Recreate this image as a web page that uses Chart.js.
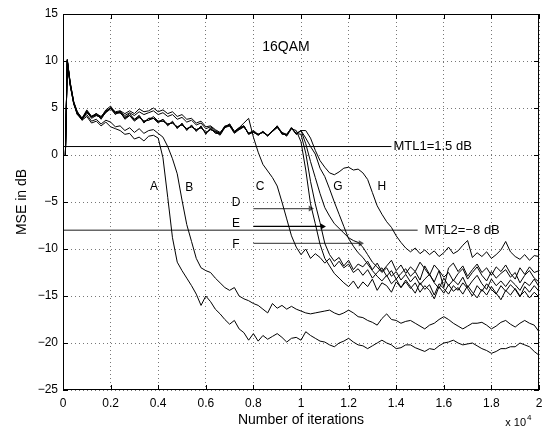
<!DOCTYPE html>
<html>
<head>
  <meta charset="utf-8">
  <title>16QAM MSE learning curves</title>
  <script src="https://cdn.jsdelivr.net/npm/chart.js"></script>
  <style>
    html, body { margin: 0; padding: 0; background: #fff; }
  </style>
</head>
<body>
<canvas id="mseChart" width="551" height="432"></canvas>
<script>
// iterations in units of 1e4; first few samples are denser to catch the start-up spike
const earlyX = [0.01, 0.018, 0.03, 0.045];
const gridStart = 0.06, gridStep = 0.02, gridCount = 98;

// MSE in dB, one array per curve (4 early samples, then 0.06 .. 2.00 every 0.02)
const curveA = [0, 10.1, 7.6, 5.6,
  4.4, 3.7, 4.1, 3.4, 3.6, 3.1, 3.5, 3.0, 2.8, 2.6,
  2.2, 2.3, 1.7, 1.9, 1.5, 2.0, 2.1, 1.8, -0.3, -4.5,
  -8.8, -11.4, -12.3, -13.1, -13.9, -14.8, -16.0, -15.0, -15.6, -16.4,
  -16.9, -17.5, -18.0, -17.6, -18.5, -18.9, -19.7, -19.0, -19.8, -19.2,
  -19.6, -19.3, -19.0, -19.4, -19.9, -19.5, -19.4, -19.7, -18.8, -19.2,
  -19.5, -19.8, -19.9, -20.2, -20.4, -20.0, -19.8, -19.5, -19.9, -20.2,
  -20.3, -20.6, -20.3, -20.0, -19.7, -20.0, -20.2, -20.6, -20.5, -20.2,
  -20.2, -20.5, -20.7, -20.9, -20.6, -20.7, -20.3, -20.0, -19.9, -19.7,
  -20.0, -20.2, -20.1, -20.0, -20.3, -20.6, -20.8, -21.1, -20.9, -20.6,
  -20.6, -20.4, -20.4, -20.0, -20.2, -20.4, -20.9, -21.3];
const curveB = [0, 10.0, 7.5, 5.5,
  4.3, 3.8, 4.3, 3.6, 3.8, 3.3, 3.7, 3.5, 3.0, 3.1,
  2.6, 2.9, 2.4, 2.8, 2.3, 2.6, 2.7, 2.3, 1.9, 0.9,
  -0.4, -2.0, -4.8, -7.4, -9.2, -11.0, -12.0, -12.3, -12.5, -13.1,
  -13.6, -14.1, -14.4, -14.1, -15.0, -15.3, -15.5, -15.8, -16.0, -16.4,
  -16.8, -15.8, -16.3, -16.0, -16.4, -16.1, -16.4, -16.6, -16.8, -16.9,
  -16.8, -16.7, -16.6, -16.5, -16.8, -17.0, -16.8, -16.5, -16.8, -17.2,
  -17.3, -17.6, -17.8, -18.1, -17.4, -16.9, -17.5, -17.6, -17.9, -17.7,
  -17.6, -17.9, -18.2, -18.5, -18.1, -17.9, -17.5, -17.2, -17.5, -17.9,
  -18.2, -18.5, -18.2, -17.9, -17.9, -17.8, -18.1, -18.5, -18.2, -17.8,
  -17.6, -18.0, -18.3, -17.9, -17.6, -17.9, -18.1, -18.8];
const curveC = [0, 10.2, 7.7, 5.7,
  4.6, 3.9, 4.8, 4.1, 4.2, 4.0, 4.8, 5.2, 4.5, 4.5,
  4.0, 4.4, 3.8, 4.0, 3.6, 3.7, 4.1, 3.6, 3.6, 3.3,
  3.4, 3.0, 3.2, 2.8, 3.0, 2.7, 2.9, 2.4, 2.7, 2.5,
  2.3, 2.9, 3.3, 2.5, 2.9, 3.4, 3.9, 1.9, 0.3, -1.0,
  -1.7, -2.4, -3.3, -5.0, -6.8, -8.6, -9.8, -10.6, -10.0, -11.0,
  -10.5, -10.9, -11.5, -11.0, -11.9, -11.3, -12.0, -11.6, -12.5, -12.1,
  -12.8, -12.2, -13.1, -12.5, -12.0, -12.9, -12.3, -13.2, -12.6, -12.1,
  -12.9, -12.4, -13.3, -11.8, -12.7, -13.5, -12.3, -13.0, -12.5, -13.4,
  -12.6, -12.1, -13.2, -12.5, -11.9, -12.8, -13.4, -12.4, -13.1, -12.6,
  -12.2, -13.0, -12.5, -13.6, -12.8, -12.3, -13.1, -13.5];
const curveD = [0, 10.0, 7.8, 5.6,
  4.4, 3.7, 4.6, 4.1, 4.4, 3.8, 4.6, 5.0, 4.3, 4.7,
  3.8, 4.2, 3.8, 4.2, 3.4, 3.9, 3.9, 3.4, 3.8, 3.1,
  3.6, 2.8, 3.4, 2.6, 3.2, 2.5, 3.1, 2.2, 2.9, 2.3,
  2.3, 3.1, 3.1, 2.3, 2.7, 3.0, 2.3, 2.4, 2.2, 2.4,
  2.1, 2.5, 3.1, 2.2, 2.2, 2.8, 2.6, 1.4, -1.6, -5.2,
  -7.3, -9.5, -11.0, -11.8, -12.6, -13.1, -13.6, -14.0, -13.4, -14.2,
  -13.5, -14.0, -13.2, -14.4, -13.6, -13.9, -14.6, -13.5, -14.1, -13.3,
  -14.0, -14.7, -13.6, -14.3, -13.8, -14.9, -13.7, -14.2, -14.8, -13.9,
  -14.4, -13.6, -14.2, -15.0, -13.9, -14.5, -13.7, -14.3, -14.8, -13.9,
  -14.5, -13.8, -14.3, -15.1, -14.0, -14.6, -13.9, -14.5];
const curveE = [0, 10.1, 7.5, 5.5,
  4.3, 3.9, 4.6, 3.9, 4.2, 4.0, 4.6, 5.0, 4.5, 4.5,
  4.0, 4.2, 3.6, 4.0, 3.6, 3.7, 3.9, 3.6, 3.6, 3.3,
  3.4, 3.0, 3.2, 2.8, 3.0, 2.7, 2.9, 2.4, 2.7, 2.5,
  2.1, 2.9, 3.1, 2.5, 2.7, 3.0, 2.3, 2.4, 2.2, 2.4,
  2.1, 2.5, 2.9, 2.4, 2.0, 2.8, 2.3, 2.2, 0.2, -2.8,
  -5.2, -7.2, -9.4, -10.6, -11.3, -10.9, -11.8, -11.2, -12.2, -11.6,
  -11.9, -11.3, -12.2, -11.5, -12.4, -11.8, -11.2, -12.3, -11.7, -12.6,
  -11.9, -12.4, -11.4, -12.1, -12.8, -11.7, -12.3, -14.1, -12.0, -11.5,
  -12.4, -11.8, -12.9, -12.2, -11.6, -12.5, -12.0, -12.8, -11.9, -12.4,
  -11.7, -12.6, -13.2, -12.0, -12.7, -11.9, -12.5, -12.3];
const curveF = [0, 10.0, 7.6, 5.4,
  4.5, 3.8, 4.5, 4.0, 4.4, 3.9, 4.5, 4.9, 4.4, 4.5,
  3.9, 4.2, 3.7, 4.2, 3.5, 3.9, 3.9, 3.5, 3.8, 3.2,
  3.5, 2.9, 3.3, 2.7, 3.1, 2.6, 3.0, 2.3, 2.8, 2.4,
  2.2, 3.0, 3.2, 2.4, 2.8, 3.1, 2.2, 2.5, 2.1, 2.5,
  2.0, 2.6, 3.0, 2.3, 2.1, 2.9, 2.2, 2.6, 1.2, -0.7,
  -2.4, -4.1, -5.6, -6.5, -7.3, -7.8, -8.3, -8.8, -9.1, -9.3,
  -9.8, -10.6, -11.4, -11.9, -12.5, -12.0, -12.9, -12.4, -13.3, -12.7,
  -13.5, -12.9, -13.8, -13.2, -12.7, -13.6, -14.2, -13.1, -13.9, -13.3,
  -13.8, -13.0, -14.1, -13.4, -12.8, -13.7, -14.3, -13.2, -13.9, -13.4,
  -14.0, -13.3, -13.8, -14.4, -13.5, -13.9, -13.2, -14.0];
const curveG = [0, 10.1, 7.7, 5.6,
  4.6, 3.9, 4.6, 4.1, 4.3, 4.0, 4.6, 5.0, 4.5, 4.6,
  4.2, 4.5, 4.2, 4.6, 4.3, 4.5, 4.7, 4.3, 4.5, 4.1,
  4.3, 3.8, 4.0, 3.5, 3.7, 3.2, 3.4, 2.8, 3.0, 2.6,
  2.3, 3.0, 3.2, 2.4, 2.8, 3.1, 2.2, 2.5, 2.1, 2.5,
  2.0, 2.6, 3.0, 2.3, 2.1, 2.9, 2.2, 2.6, 1.8, 0.9,
  0.1, -1.4, -2.3, -3.6, -5.0, -6.3, -7.6, -8.9, -9.7, -10.4,
  -10.9, -11.6, -12.3, -12.9, -13.4, -12.8, -13.7, -13.2, -14.1, -13.5,
  -14.2, -13.6, -14.6, -13.9, -14.4, -15.3, -14.0, -14.7, -13.8, -14.5,
  -14.1, -14.8, -13.9, -14.6, -15.2, -14.3, -14.9, -14.0, -14.7, -15.4,
  -14.4, -14.9, -14.2, -15.0, -14.5, -15.2, -14.6, -15.1];
const curveH = [0, 10.0, 7.4, 5.5,
  4.5, 3.9, 4.7, 4.1, 4.4, 4.1, 4.7, 5.0, 4.6, 4.7,
  4.4, 4.7, 4.4, 4.9, 4.6, 4.7, 5.0, 4.6, 4.8, 4.4,
  4.6, 4.1, 4.3, 3.8, 3.9, 3.4, 3.6, 3.0, 3.1, 2.7,
  2.4, 3.0, 3.3, 2.5, 2.9, 3.1, 2.3, 2.6, 2.2, 2.5,
  2.1, 2.6, 3.1, 2.4, 2.2, 2.9, 2.3, 2.6, 2.6, 1.8,
  0.5, -0.6, -1.3, -1.9, -2.1, -1.8, -1.4, -1.3, -1.6, -1.5,
  -1.9, -2.6, -4.0, -5.4, -6.3, -7.1, -7.7, -8.6, -9.3, -9.9,
  -10.3, -9.9, -10.5, -10.1, -10.6, -10.2, -10.8, -10.4, -9.8, -10.5,
  -10.2, -9.6, -9.1, -10.9, -10.4, -10.8, -10.3, -11.0, -10.6, -10.1,
  -9.2, -10.3, -10.8, -11.1, -10.6, -11.2, -10.7, -10.8];

// threshold lines: [level in dB, end iteration (x1e4)]
const mtl1 = [0.9, 1.38];
const mtl2 = [-8, 1.49];
// arrows D, E, F: level in dB, start and end iteration
const arrowLevels = [-5.7, -7.6, -9.4];
const arrowStart = [0.8, 0.8, 0.8];
const arrowEnd = [1.04, 1.09, 1.25];
const arrowColors = ['#555', '#000', '#555'];

// curve labels and where they sit (data units)
const curveNames = ['A', 'B', 'C', 'G', 'H', 'D', 'E', 'F'];
const nameX = [0.382, 0.53, 0.828, 1.155, 1.34, 0.727, 0.727, 0.727];
const nameY = [-3.4, -3.5, -3.4, -3.4, -3.4, -5.1, -7.3, -9.5];

const xTicks = [0, 0.2, 0.4, 0.6, 0.8, 1, 1.2, 1.4, 1.6, 1.8, 2];

const iterX = earlyX.slice();
for (let i = 0; i < gridCount; i++) iterX.push(+(gridStart + i * gridStep).toFixed(2));

const curves = [curveA, curveB, curveC, curveD, curveE, curveF, curveG, curveH];
const datasets = curves.map(vals => ({
  data: vals.map((v, i) => ({ x: iterX[i], y: v })),
  borderColor: '#000',
  borderWidth: 1,
  pointRadius: 0,
  tension: 0,
  fill: false
}));

datasets.push({
  data: [{ x: 0, y: mtl1[0] }, { x: mtl1[1], y: mtl1[0] }],
  borderColor: '#000', borderWidth: 1, pointRadius: 0
});
datasets.push({
  data: [{ x: 0, y: mtl2[0] }, { x: mtl2[1], y: mtl2[0] }],
  borderColor: '#666', borderWidth: 1.5, pointRadius: 0
});
arrowLevels.forEach((lvl, i) => {
  datasets.push({
    data: [{ x: arrowStart[i], y: lvl }, { x: arrowEnd[i], y: lvl }],
    borderColor: arrowColors[i], borderWidth: 1.3,
    pointStyle: 'triangle', rotation: 90,
    pointRadius: [0, 3.5], pointBorderWidth: 0,
    pointBackgroundColor: arrowColors[i]
  });
});

const FONT = "'Liberation Sans', Arial, Helvetica, sans-serif";

const matlabFrame = {
  id: 'matlabFrame',
  afterDatasetsDraw(chart) {
    const { ctx, chartArea: a, scales: { x, y } } = chart;
    ctx.save();
    ctx.strokeStyle = '#000';
    ctx.lineWidth = 1;
    ctx.strokeRect(a.left + 0.5, a.top + 0.5, a.right - a.left - 1, a.bottom - a.top - 1);
    ctx.beginPath();
    x.ticks.forEach(t => {
      const px = Math.round(x.getPixelForValue(t.value)) + 0.5;
      ctx.moveTo(px, a.bottom); ctx.lineTo(px, a.bottom - 5);
      ctx.moveTo(px, a.top); ctx.lineTo(px, a.top + 5);
    });
    y.ticks.forEach(t => {
      const py = Math.round(y.getPixelForValue(t.value)) + 0.5;
      ctx.moveTo(a.left, py); ctx.lineTo(a.left + 5, py);
      ctx.moveTo(a.right, py); ctx.lineTo(a.right - 5, py);
    });
    ctx.stroke();

    // text inside the axes
    ctx.fillStyle = '#000';
    ctx.textBaseline = 'middle';
    ctx.textAlign = 'center';
    ctx.font = '12px ' + FONT;
    curveNames.forEach((n, i) => {
      ctx.fillText(n, x.getPixelForValue(nameX[i]), y.getPixelForValue(nameY[i]));
    });
    ctx.font = '14px ' + FONT;
    ctx.fillText('16QAM', x.getPixelForValue(0.937), y.getPixelForValue(11.5));
    ctx.textAlign = 'left';
    ctx.font = '13px ' + FONT;
    ctx.fillText('MTL1=1.5 dB', x.getPixelForValue(mtl1[1]) + 2, y.getPixelForValue(mtl1[0]));
    ctx.fillText('MTL2=\u22128 dB', x.getPixelForValue(mtl2[1]) + 7, y.getPixelForValue(mtl2[0]));

    // exponent under the x axis
    ctx.textAlign = 'right';
    ctx.textBaseline = 'alphabetic';
    ctx.font = '11px ' + FONT;
    ctx.fillText('x 10', a.right - 13, a.bottom + 36);
    ctx.textAlign = 'left';
    ctx.font = '8px ' + FONT;
    ctx.fillText('4', a.right - 12, a.bottom + 30);
    ctx.restore();
  }
};

new Chart(document.getElementById('mseChart'), {
  type: 'line',
  data: { datasets },
  options: {
    responsive: false,
    animation: false,
    layout: { padding: { left: 10, top: 14, right: 12, bottom: 0 } },
    plugins: { legend: { display: false }, tooltip: { enabled: false } },
    scales: {
      x: {
        type: 'linear', min: 0, max: 2,
        afterBuildTicks: s => { s.ticks = xTicks.map(v => ({ value: v })); },
        afterFit: s => { s.height = 42; },
        ticks: {
          color: '#000', padding: 6, maxRotation: 0,
          font: { family: FONT, size: 12 },
          callback: v => String(+v.toFixed(1))
        },
        grid: { color: '#777', drawTicks: false },
        border: { display: false, dash: [1, 3] },
        title: {
          display: true, text: 'Number of iterations', color: '#000',
          font: { family: FONT, size: 14 }, padding: { top: 0, bottom: 3 }
        }
      },
      y: {
        type: 'linear', min: -25, max: 15,
        afterFit: s => { s.width = 53; },
        ticks: {
          stepSize: 5, color: '#000', padding: 5,
          font: { family: FONT, size: 12 },
          callback: v => v < 0 ? '\u2212' + (-v) : String(v)
        },
        grid: { color: '#777', drawTicks: false },
        border: { display: false, dash: [1, 3] },
        title: {
          display: true, text: 'MSE in dB', color: '#000',
          font: { family: FONT, size: 14 }, padding: { top: 4, bottom: 0 }
        }
      }
    }
  },
  plugins: [matlabFrame]
});
</script>
</body>
</html>
